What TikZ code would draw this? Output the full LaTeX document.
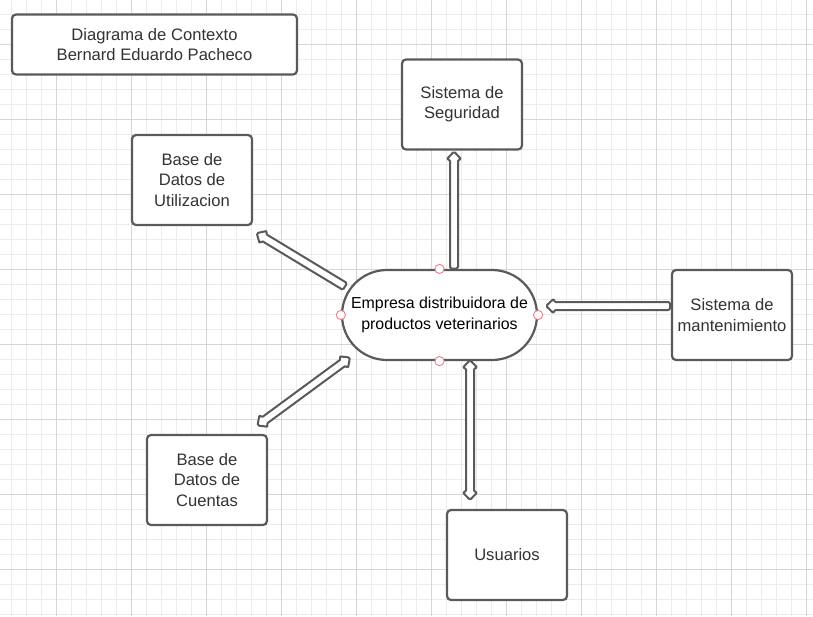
\documentclass[tikz,border=0pt]{standalone}
\usepackage{fontspec}
\setmainfont{Liberation Sans}
\usetikzlibrary{calc}
\definecolor{gridminor}{HTML}{ECECEC}
\definecolor{gridmajor}{HTML}{D6D6D6}
\definecolor{edgegray}{HTML}{5A5A5A}
\definecolor{txtgray}{HTML}{333333}
\definecolor{handlered}{HTML}{E8808E}
\tikzset{
  boxnode/.style={draw=edgegray, line width=2.2pt, fill=white, rounded corners=4pt,
    minimum width=120pt, minimum height=90pt, align=center, text=txtgray,
    font=\fontsize{16.6pt}{20.4pt}\selectfont, inner sep=0pt},
  titlenode/.style={boxnode, minimum width=285pt, minimum height=60pt},
  stadium/.style={draw=edgegray, line width=2.2pt, fill=white, rounded corners=45pt,
    minimum width=195pt, minimum height=90pt, align=center, text=black,
    font=\fontsize{15.9pt}{20.4pt}\selectfont, inner sep=0pt},
  arrowbody/.style={draw=edgegray, line width=2pt, fill=white, rounded corners=1.5pt, line join=round},
  handle/.style={draw=handlered, line width=0.9pt, fill=white}
}
\newcommand\singlearrow[2]{%
  \draw[arrowbody] let \p1=(#1), \p2=(#2),
    \n1={atan2(\y2-\y1,\x2-\x1)}, \n2={veclen(\x2-\x1,\y2-\y1)} in
    [shift={(\p1)}, rotate=\n1]
    (0pt,-4pt) -- (\n2-8pt,-4pt) -- (\n2-8pt,-7.5pt) -- (\n2+0pt,0pt)
    -- (\n2-8pt,7.5pt) -- (\n2-8pt,4pt) -- (0pt,4pt) -- cycle;}
\newcommand\doublearrow[2]{%
  \draw[arrowbody] let \p1=(#1), \p2=(#2),
    \n1={atan2(\y2-\y1,\x2-\x1)}, \n2={veclen(\x2-\x1,\y2-\y1)} in
    [shift={(\p1)}, rotate=\n1]
    (8pt,-4pt) -- (\n2-8pt,-4pt) -- (\n2-8pt,-7.5pt) -- (\n2+0pt,0pt)
    -- (\n2-8pt,7.5pt) -- (\n2-8pt,4pt) -- (8pt,4pt) -- (8pt,7.5pt)
    -- (0pt,0pt) -- (8pt,-7.5pt) -- cycle;}
\begin{document}
\begin{tikzpicture}[x=1pt,y=-1pt]
\useasboundingbox (0,0) rectangle (813,616);
\fill[white] (0,0) rectangle (813,616);
% grid
\foreach \k in {0,...,53} {\draw[gridminor, line width=0.8pt] (11.7+15*\k,0) -- (11.7+15*\k,616);}
\foreach \k in {0,...,40} {\draw[gridminor, line width=0.8pt] (0,14.3+15*\k) -- (813,14.3+15*\k);}
\foreach \k in {0,...,10} {\draw[gridmajor, line width=0.8pt] (56.7+75*\k,0) -- (56.7+75*\k,616);}
\foreach \k in {0,...,7} {\draw[gridmajor, line width=0.8pt] (0,44.3+75*\k) -- (813,44.3+75*\k);}

% nodes
\node[titlenode] (title) at (154.5,44.5) {Diagrama de Contexto\\Bernard Eduardo Pacheco};
\node[boxnode] (seg) at (462,104.5) {Sistema de\\Seguridad};
\node[boxnode] (util) at (192,180) {Base de\\Datos de\\Utilizacion};
\node[stadium] (emp) at (439.5,315) {Empresa distribuidora de\\productos veterinarios};
\node[boxnode] (mant) at (732,315) {Sistema de\\mantenimiento};
\node[boxnode] (cuen) at (207,480) {Base de\\Datos de\\Cuentas};
\node[boxnode] (usu) at (507,555) {Usuarios};

% arrow end points
\coordinate (a1s) at (345,286.5);
\coordinate (a1e) at (256.5,233);
\coordinate (a2s) at (454,268.5);
\coordinate (a2e) at (454,151.5);
\coordinate (a3s) at (670,306);
\coordinate (a3e) at (546,306);
\coordinate (a4s) at (257.5,425.5);
\coordinate (a4e) at (350,357.5);
\coordinate (a5s) at (470,360);
\coordinate (a5e) at (470,500);

\singlearrow{a1s}{a1e}
\singlearrow{a2s}{a2e}
\singlearrow{a3s}{a3e}
\doublearrow{a4s}{a4e}
\doublearrow{a5s}{a5e}

% selection handles on the central node
\draw[handle] (emp.north) circle (4.6pt);
\draw[handle] (emp.south) circle (4.6pt);
\draw[handle] (emp.west) circle (4.6pt);
\draw[handle] (emp.east) circle (4.6pt);
\end{tikzpicture}
\end{document}
